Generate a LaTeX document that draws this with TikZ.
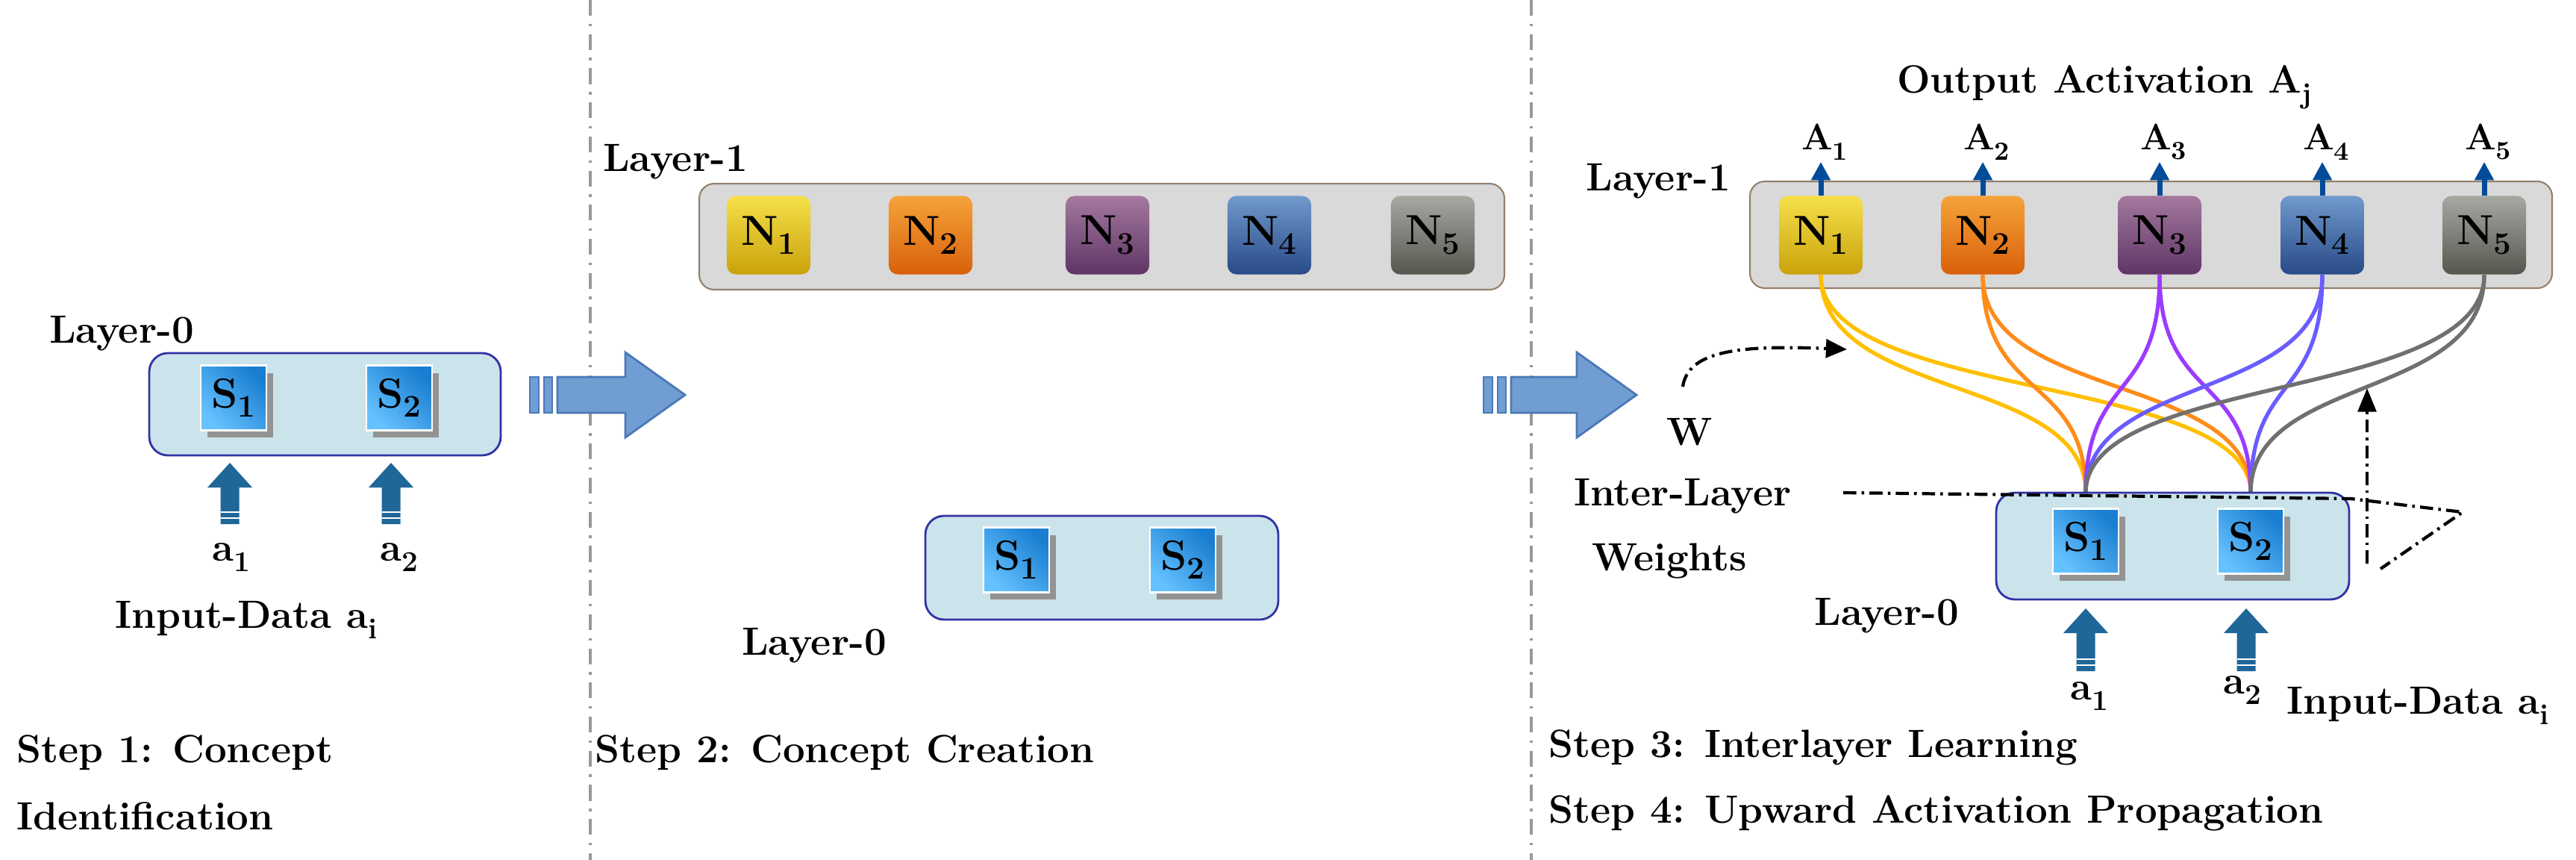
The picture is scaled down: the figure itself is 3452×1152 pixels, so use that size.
\documentclass[tikz,border=0pt]{standalone}
\usetikzlibrary{arrows.meta,calc}
\begin{document}
\begin{tikzpicture}[x=0.01cm,y=-0.01cm,
  lbl/.style={font=\fontsize{15}{18}\selectfont\bfseries,inner sep=0pt},
  lay1/.style={draw=gray!70!brown,fill=gray!30,rounded corners=0.2cm,line width=0.6pt},
  lay0/.style={draw=blue!55!black!80,fill=blue!25!cyan!15!white!85!gray,rounded corners=0.25cm,line width=0.8pt},
  nbox/.style={minimum width=1.12cm,minimum height=1.05cm,rounded corners=0.12cm,inner sep=0pt,font=\fontsize{16}{18}\selectfont\bfseries,shading angle=135},
  sbox/.style={minimum width=0.88cm,minimum height=0.87cm,draw=white,line width=0.8pt,inner sep=0pt,font=\fontsize{16}{18}\selectfont\bfseries,left color=cyan!60!blue!60,right color=blue!45!cyan!80!black!90,shading angle=135},
  divl/.style={gray!80,line width=1.2pt,dash pattern=on 6pt off 3pt on 1pt off 3pt},
  wl/.style={line width=1.5pt},
  oarr/.style={-{Triangle[width=7pt,length=7pt]},line width=2pt,color=blue!50!cyan!60!black},
  dd/.style={black,line width=1.2pt,dash pattern=on 5pt off 2pt on 1pt off 2pt}]
\path[use as bounding box] (0,0) rectangle (3452,1152);
\definecolor{arrblue}{HTML}{1F6699}
\definecolor{bigfill}{HTML}{719ED2}
\definecolor{bigdraw}{HTML}{4A78B8}
\newcommand\myUpArr[3]{% x, bottom y, tip y
  \fill[arrblue] (#1-12.5,#2) -- (#1-12.5,#3+33) -- (#1-30,#3+33) -- (#1,#3) -- (#1+30,#3+33) -- (#1+12.5,#3+33) -- (#1+12.5,#2) -- cycle;
  \draw[white,line width=0.6pt] (#1-12.5,#2-8) -- (#1+12.5,#2-8) (#1-12.5,#2-16) -- (#1+12.5,#2-16);}
\newcommand\myBigArr[3]{% x0, center y, tip x
  \filldraw[fill=bigfill,draw=bigdraw,line width=0.8pt] (#1,#2-24) rectangle (#1+12,#2+24);
  \filldraw[fill=bigfill,draw=bigdraw,line width=0.8pt] (#1+19,#2-24) rectangle (#1+30,#2+24);
  \filldraw[fill=bigfill,draw=bigdraw,line width=0.8pt] (#1+37,#2-24) -- (#3-80,#2-24) -- (#3-80,#2-57) -- (#3,#2) -- (#3-80,#2+57) -- (#3-80,#2+24) -- (#1+37,#2+24) -- cycle;}
\newcommand\myS[3]{% name, x, y
  \fill[gray!85] (#2-44+9,#3-43+10) rectangle (#2+44+9,#3+43+10);
  \node[sbox] (#1) at (#2,#3) {S$_{\mathbf{\fontsize{12}{12}\selectfont\ref{x}}}$};}
\renewcommand\myS[4]{% name, x, y, index
  \fill[gray!85] (#2-44+9,#3-43+10) rectangle (#2+44+9,#3+43+10);
  \node[sbox] (#1) at (#2,#3) {S\raisebox{-0.5ex}{\fontsize{12}{12}\selectfont #4}};}
\newcommand\myN[6]{% name,x,y,idx,color1,color2
  \node[nbox,top color=#5,bottom color=#6] (#1) at (#2,#3) {N\raisebox{-0.5ex}{\fontsize{12}{12}\selectfont #4}};}
\definecolor{y1}{HTML}{F5E04A}\definecolor{y2}{HTML}{C9A20A}
\definecolor{o1}{HTML}{F5A33A}\definecolor{o2}{HTML}{D9600A}
\definecolor{p1}{HTML}{A4789E}\definecolor{p2}{HTML}{5E3565}
\definecolor{b1}{HTML}{7099CC}\definecolor{b2}{HTML}{284A88}
\definecolor{g1}{HTML}{A6A8A2}\definecolor{g2}{HTML}{55574F}
% dividers
\draw[divl] (791,0) -- (791,1152);
\draw[divl] (2052,0) -- (2052,1152);
% ---------- Panel 1
\node[lbl] (l0a) at (163,447) {Layer-0};
\draw[lay0] (200,473) rectangle (671,610);
\myS{s1a}{313}{533}{1}
\myS{s2a}{535}{533}{2}
\myUpArr{308}{702}{620}
\myUpArr{524}{702}{620}
\node[lbl] (a1a) at (310,747) {a\raisebox{-0.6ex}{\fontsize{11}{11}\selectfont 1}};
\node[lbl] (a2a) at (535,747) {a\raisebox{-0.6ex}{\fontsize{11}{11}\selectfont 2}};
\node[lbl] (ina) at (330,830) {Input-Data a\raisebox{-0.6ex}{\fontsize{11}{11}\selectfont i}};
\node[lbl,anchor=west] (st1) at (22,1008) {Step 1: Concept};
\node[lbl,anchor=west] (st1b) at (22,1093) {Identification};
\myBigArr{710}{529}{918}
% ---------- Panel 2
\node[lbl] (l1b) at (905,217) {Layer-1};
\draw[lay1] (937,246) rectangle (2016,388);
\myN{n1b}{1030}{315}{1}{y1}{y2}
\myN{n2b}{1247}{315}{2}{o1}{o2}
\myN{n3b}{1484}{315}{3}{p1}{p2}
\myN{n4b}{1701}{315}{4}{b1}{b2}
\myN{n5b}{1920}{315}{5}{g1}{g2}
\draw[lay0] (1240,691) rectangle (1713,830);
\myS{s1b}{1362}{750}{1}
\myS{s2b}{1585}{750}{2}
\node[lbl] (l0b) at (1091,865) {Layer-0};
\node[lbl,anchor=west] (st2) at (797,1008) {Step 2: Concept Creation};
\myBigArr{1988}{529}{2193}
% ---------- Panel 3
\node[lbl] (oat) at (2820,117) {Output Activation A\raisebox{-0.6ex}{\fontsize{11}{11}\selectfont j}};
\node[lbl] (l1c) at (2222,243) {Layer-1};
\draw[lay1] (2345,243) rectangle (3420,386);
\myN{n1}{2440}{315}{1}{y1}{y2}
\myN{n2}{2657}{315}{2}{o1}{o2}
\myN{n3}{2894}{315}{3}{p1}{p2}
\myN{n4}{3112}{315}{4}{b1}{b2}
\myN{n5}{3329}{315}{5}{g1}{g2}
\foreach \i in {1,...,5}{
  \coordinate (t\i) at ($(n\i.north)+(0,-45)$);
  \draw[oarr] (n\i.north) -- (t\i);
  \node[lbl,font=\fontsize{14}{16}\selectfont\bfseries,anchor=south] (A\i) at ($(t\i)+(5,-2)$) {A\raisebox{-0.6ex}{\fontsize{10}{10}\selectfont \i}};
}
\coordinate (p1) at (2795,660);
\coordinate (p2) at (3016,660);
\foreach \i/\c in {1/FFC000,2/FF8C1A,3/9B3BFF,4/6A5CFF,5/707070}{
  \definecolor{cc}{HTML}{\c}
  \draw[wl,cc] (n\i.south) .. controls ($(n\i.south)+(0,170)$) and ($(p1)+(0,-160)$) .. (p1);
  \draw[wl,cc] (n\i.south) .. controls ($(n\i.south)+(0,170)$) and ($(p2)+(0,-160)$) .. (p2);
}
\draw[lay0] (2675,660) rectangle (3148,803);
\myS{s1}{2795}{725}{1}
\myS{s2}{3016}{725}{2}
\myUpArr{2795}{899}{815}
\myUpArr{3010}{899}{815}
\node[lbl] (a1c) at (2800,933) {a\raisebox{-0.6ex}{\fontsize{11}{11}\selectfont 1}};
\node[lbl] (a2c) at (3005,925) {a\raisebox{-0.6ex}{\fontsize{11}{11}\selectfont 2}};
\node[lbl] (inc) at (3240,945) {Input-Data a\raisebox{-0.6ex}{\fontsize{11}{11}\selectfont i}};
\node[lbl] (l0c) at (2528,825) {Layer-0};
\node[lbl] (w) at (2264,579) {W};
\node[lbl] (il) at (2255,665) {Inter-Layer};
\node[lbl] (wt) at (2237,751) {Weights};
\node[lbl,anchor=west] (st3) at (2075,1001) {Step 3: Interlayer Learning};
\node[lbl,anchor=west] (st4) at (2075,1089) {Step 4: Upward Activation Propagation};
% dash-dot annotations
\coordinate (c0) at (2255,518);
\coordinate (c1) at (2475,468);
\draw[dd,-{Triangle[width=7pt,length=8pt]}] (c0) .. controls (2262,470) and (2330,462) .. (c1);
\coordinate (h0) at (2470,660);
\coordinate (h1) at (3150,668);
\coordinate (h2) at (3300,686);
\coordinate (h3) at (3190,762);
\draw[dd] (h0) -- (h1) -- (h2) -- (h3);
\coordinate (v0) at (3172,755);
\coordinate (v1) at (3172,520);
\draw[dd,-{Triangle[width=7pt,length=9pt]}] (v0) -- (v1);
\end{tikzpicture}
\end{document}
